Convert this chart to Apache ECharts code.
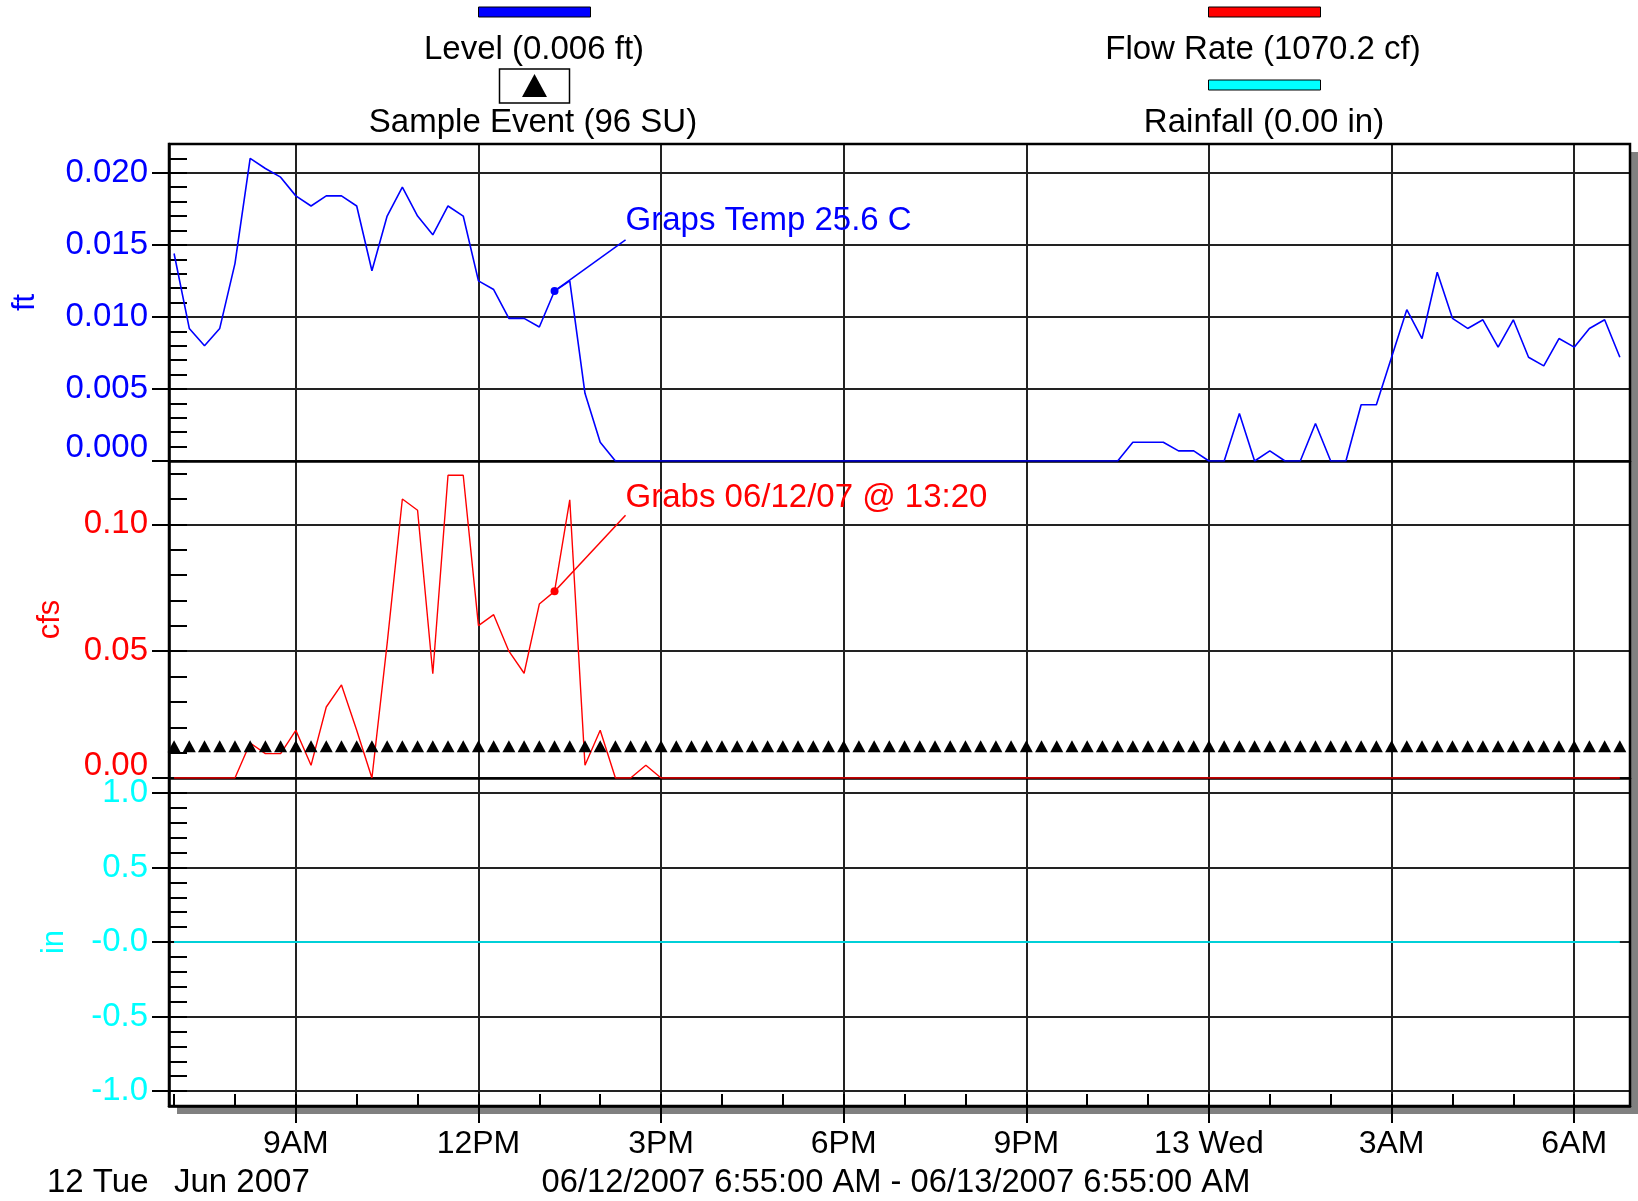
<!DOCTYPE html>
<html>
<head>
<meta charset="utf-8">
<script src="https://cdn.jsdelivr.net/npm/echarts@6/dist/echarts.min.js"></script>
<style>
html,body{margin:0;padding:0;background:#fff;}
#chart{width:1638px;height:1201px;}
</style>
</head>
<body>
<div id="chart"></div>
<script>
// ---------------- DATA ----------------
// time in hours since 00:00 on 12 Jun 2007 (15-minute samples, 07:00 .. 06:45 next day)
var times = [
  7.00, 7.25, 7.50, 7.75, 8.00, 8.25, 8.50, 8.75, 9.00, 9.25, 9.50, 9.75,
  10.00,10.25,10.50,10.75,11.00,11.25,11.50,11.75,12.00,12.25,12.50,12.75,
  13.00,13.25,13.50,13.75,14.00,14.25,14.50,14.75,15.00,15.25,15.50,15.75,
  16.00,16.25,16.50,16.75,17.00,17.25,17.50,17.75,18.00,18.25,18.50,18.75,
  19.00,19.25,19.50,19.75,20.00,20.25,20.50,20.75,21.00,21.25,21.50,21.75,
  22.00,22.25,22.50,22.75,23.00,23.25,23.50,23.75,24.00,24.25,24.50,24.75,
  25.00,25.25,25.50,25.75,26.00,26.25,26.50,26.75,27.00,27.25,27.50,27.75,
  28.00,28.25,28.50,28.75,29.00,29.25,29.50,29.75,30.00,30.25,30.50,30.75
];
// Level (ft)
var level = [
  0.0144,0.0092,0.0080,0.0092,0.0137,0.0210,0.0203,0.0197,0.0184,0.0177,0.0184,0.0184,
  0.0177,0.0132,0.0170,0.0190,0.0170,0.0157,0.0177,0.0170,0.0125,0.0119,0.0099,0.0099,
  0.0093,0.0118,0.0125,0.0047,0.0013,0,0,0,0,0,0,0,
  0,0,0,0,0,0,0,0,0,0,0,0,
  0,0,0,0,0,0,0,0,0,0,0,0,
  0,0,0,0.0013,0.0013,0.0013,0.0007,0.0007,0,0,0.0033,0,
  0.0007,0,0,0.0026,0,0,0.0039,0.0039,0.0072,0.0105,0.0085,0.0131,
  0.0099,0.0092,0.0098,0.0079,0.0098,0.0072,0.0066,0.0085,0.0079,0.0092,0.0098,0.0072
];
// Flow Rate (cfs)
var flow = [
  0,0,0,0,0,0.0138,0.0096,0.0096,0.0188,0.0050,0.0280,0.0367,
  0.0188,0,0.0530,0.1100,0.1056,0.0411,0.1194,0.1194,0.0601,0.0644,0.0500,0.0413,
  0.0686,0.0736,0.1097,0.0050,0.0188,0,0,0.0050,0,0,0,0,
  0,0,0,0,0,0,0,0,0,0,0,0,
  0,0,0,0,0,0,0,0,0,0,0,0,
  0,0,0,0,0,0,0,0,0,0,0,0,
  0,0,0,0,0,0,0,0,0,0,0,0,
  0,0,0,0,0,0,0,0,0,0,0,0
];
// Rainfall (in)
var rain = [
  0,0,0,0,0,0,0,0,0,0,0,0, 0,0,0,0,0,0,0,0,0,0,0,0,
  0,0,0,0,0,0,0,0,0,0,0,0, 0,0,0,0,0,0,0,0,0,0,0,0,
  0,0,0,0,0,0,0,0,0,0,0,0, 0,0,0,0,0,0,0,0,0,0,0,0,
  0,0,0,0,0,0,0,0,0,0,0,0, 0,0,0,0,0,0,0,0,0,0,0,0
];
// Sample events (one every 15 minutes, 96 SU) share the same times
var sampleTimes = times;
var SAMPLE_MARK_LEVEL = 0.0125; // where the event markers sit on the cfs scale

// annotations
var annotationIndex = 25;
var levelNote = 'Graps Temp 25.6 C';
var flowNote = 'Grabs 06/12/07 @ 13:20';

// axes / ticks
var X_MIN = 6 + 55/60, X_MAX = 30 + 55/60;
var xTicks = [9, 12, 15, 18, 21, 24, 27, 30];
var xTickLabels = ['9AM', '12PM', '3PM', '6PM', '9PM', '13 Wed', '3AM', '6AM'];
var xHourTicks = [7,8,9,10,11,12,13,14,15,16,17,18,19,20,21,22,23,24,25,26,27,28,29,30];

var ftTicks = [0, 0.005, 0.010, 0.015, 0.020];
var ftTickLabels = ['0.000', '0.005', '0.010', '0.015', '0.020'];
var cfsTicks = [0, 0.05, 0.10];
var cfsTickLabels = ['0.00', '0.05', '0.10'];
var inTicks = [-1.0, -0.5, 0, 0.5, 1.0];
var inTickLabels = ['-1.0', '-0.5', '-0.0', '0.5', '1.0'];

var legendNames = ['Level (0.006 ft)', 'Flow Rate (1070.2 cf)', 'Sample Event (96 SU)', 'Rainfall (0.00 in)'];

// ---------------- CHART ----------------
var FONT = '"Liberation Sans", Arial, sans-serif';
var BLUE = '#0000FF', RED = '#FF0000', CYAN = '#00FFFF', CYAN_LINE = '#00D0D8';
var GRID_LINE = { show: true, lineStyle: { color: '#222', width: 2 } };

function zip(xs, ys) { return xs.map(function (x, i) { return [x, ys[i]]; }); }
function lookup(ticks, labels) {
  return function (v) {
    for (var i = 0; i < ticks.length; i++) if (Math.abs(ticks[i] - v) < 1e-9) return labels[i];
    return '';
  };
}

var LEFT = 169, WIDTH = 1461;
var chart = echarts.init(document.getElementById('chart'), null, { renderer: 'canvas' });

function hiddenX(g) { return { gridIndex: g, type: 'value', min: X_MIN, max: X_MAX, show: false }; }
function hiddenY(g) { return { gridIndex: g, type: 'value', min: 0, max: 1, show: false }; }

function panelX(g, bottom) {
  return {
    gridIndex: g, type: 'value', min: X_MIN, max: X_MAX, position: 'bottom',
    axisLine: { show: true, onZero: false, lineStyle: { color: '#000', width: 2.5 } },
    axisTick: { show: !!bottom, inside: false, length: 17, customValues: xTicks, lineStyle: { color: '#000', width: 2 } },
    axisLabel: bottom ? {
      show: true, customValues: xTicks, formatter: lookup(xTicks, xTickLabels),
      color: '#000', fontSize: 32, fontFamily: FONT, margin: 22
    } : { show: false },
    splitLine: GRID_LINE
  };
}
function minorY(g, min, max, interval) {
  return {
    gridIndex: g, type: 'value', min: min, max: max, interval: interval, position: 'left',
    axisLine: { show: false, onZero: false }, axisLabel: { show: false }, splitLine: { show: false },
    axisTick: { show: true, inside: true, length: 18, lineStyle: { color: '#000', width: 2 } }
  };
}
function majorY(g, min, max, ticks, labels, color, name, nameGap, zeroPad) {
  return {
    gridIndex: g, type: 'value', min: min, max: max, position: 'left',
    name: name, nameLocation: 'middle', nameGap: nameGap,
    nameTextStyle: { color: color, fontSize: 31, fontFamily: FONT },
    axisLine: { show: true, onZero: false, lineStyle: { color: '#000', width: 2.5 } },
    axisTick: { show: true, inside: false, length: 17, customValues: ticks, lineStyle: { color: '#000', width: 2 } },
    axisLabel: {
      show: true, customValues: ticks, margin: 21,
      color: color, fontSize: 33, fontFamily: FONT,
      formatter: function (v) {
        var t = lookup(ticks, labels)(v);
        if (zeroPad && Math.abs(v) < 1e-12) return '{z|' + t + '}';
        return t;
      },
      rich: { z: { color: color, fontSize: 33, fontFamily: FONT, padding: [0, 0, zeroPad || 0, 0] } }
    },
    splitLine: GRID_LINE
  };
}
// annotation label: an empty second line moves the leader-line attachment below the text
function noteLabel(text, color, lineHeight) {
  return { show: true, position: 'right', distance: 5, formatter: text + '\n ',
    color: color, fontSize: 33, fontFamily: FONT, lineHeight: lineHeight, align: 'left' };
}

var option = {
  animation: false,
  backgroundColor: '#fff',
  textStyle: { fontFamily: FONT },
  grid: [
    { left: LEFT, top: 144, width: WIDTH, height: 962, show: true, backgroundColor: '#fff', borderWidth: 0,
      shadowColor: '#808080', shadowOffsetX: 8, shadowOffsetY: 8, shadowBlur: 0, containLabel: false },
    { left: LEFT, top: 144, width: WIDTH, height: 962, show: true, backgroundColor: 'transparent',
      borderColor: '#000', borderWidth: 2.5, z: 5 },
    { left: LEFT, top: 144, width: WIDTH, height: 317 },
    { left: LEFT, top: 461, width: WIDTH, height: 317 },
    { left: LEFT, top: 778, width: WIDTH, height: 328 }
  ],
  xAxis: [
    hiddenX(0), hiddenX(1),
    panelX(2, false), panelX(3, false), panelX(4, true),
    { gridIndex: 4, type: 'value', min: X_MIN, max: X_MAX, position: 'bottom',
      axisLine: { show: false, onZero: false }, axisLabel: { show: false }, splitLine: { show: false },
      axisTick: { show: true, inside: true, length: 12, customValues: xHourTicks, lineStyle: { color: '#000', width: 2 } } }
  ],
  yAxis: [
    hiddenY(0), hiddenY(1),
    majorY(2, 0, 0.022, ftTicks, ftTickLabels, BLUE, 'ft', 128, 26),
    minorY(2, 0, 0.022, 0.001),
    majorY(3, 0, 0.125, cfsTicks, cfsTickLabels, RED, 'cfs', 103, 25),
    minorY(3, 0, 0.125, 0.01),
    majorY(4, -1.1, 1.1, inTicks, inTickLabels, CYAN, 'in', 99, 0),
    minorY(4, -1.1, 1.1, 0.1)
  ],
  series: [
    { name: legendNames[3], type: 'line', xAxisIndex: 4, yAxisIndex: 6, data: zip(times, rain),
      showSymbol: false, lineStyle: { color: CYAN_LINE, width: 2 }, z: 3 },
    { name: legendNames[1], type: 'line', xAxisIndex: 3, yAxisIndex: 4, data: zip(times, flow),
      showSymbol: false, lineStyle: { color: RED, width: 1.4 }, z: 3 },
    { name: legendNames[2], type: 'scatter', xAxisIndex: 3, yAxisIndex: 4,
      data: sampleTimes.map(function (t) { return [t, SAMPLE_MARK_LEVEL]; }),
      symbol: 'triangle', symbolSize: [13, 12], itemStyle: { color: '#000', opacity: 1 }, z: 4 },
    { name: legendNames[0], type: 'line', xAxisIndex: 2, yAxisIndex: 2, data: zip(times, level),
      showSymbol: false, lineStyle: { color: BLUE, width: 1.6 }, z: 3 },
    { type: 'scatter', xAxisIndex: 2, yAxisIndex: 2,
      data: [[times[annotationIndex], level[annotationIndex]]],
      symbol: 'circle', symbolSize: 8, itemStyle: { color: BLUE, opacity: 1 }, z: 6,
      label: noteLabel(levelNote, BLUE, 38),
      labelLayout: { dx: 62, dy: -51 },
      labelLine: { show: true, lineStyle: { color: BLUE, width: 1.5, opacity: 1 } } },
    { type: 'scatter', xAxisIndex: 3, yAxisIndex: 4,
      data: [[times[annotationIndex], flow[annotationIndex]]],
      symbol: 'circle', symbolSize: 8, itemStyle: { color: RED, opacity: 1 }, z: 6,
      label: noteLabel(flowNote, RED, 34),
      labelLayout: { dx: 62, dy: -76 },
      labelLine: { show: true, lineStyle: { color: RED, width: 1.5, opacity: 1 } } }
  ],
  graphic: [
    // legend
    { type: 'rect', shape: { x: 478.5, y: 7, width: 112, height: 10 }, style: { fill: BLUE, stroke: '#000', lineWidth: 1 } },
    { type: 'text', x: 534, y: 50, style: { text: legendNames[0], fill: '#000', font: '33px ' + FONT, textAlign: 'center', textVerticalAlign: 'middle' } },
    { type: 'rect', shape: { x: 499.5, y: 69, width: 70, height: 34 }, style: { fill: '#fff', stroke: '#000', lineWidth: 1.5 } },
    { type: 'polygon', shape: { points: [[534.5, 74], [522, 97], [547, 97]] }, style: { fill: '#000' } },
    { type: 'text', x: 533, y: 123, style: { text: legendNames[2], fill: '#000', font: '33px ' + FONT, textAlign: 'center', textVerticalAlign: 'middle' } },
    { type: 'rect', shape: { x: 1208.5, y: 7, width: 112, height: 10 }, style: { fill: RED, stroke: '#000', lineWidth: 1 } },
    { type: 'text', x: 1263, y: 50, style: { text: legendNames[1], fill: '#000', font: '33px ' + FONT, textAlign: 'center', textVerticalAlign: 'middle' } },
    { type: 'rect', shape: { x: 1208.5, y: 80, width: 112, height: 10 }, style: { fill: CYAN, stroke: '#000', lineWidth: 1 } },
    { type: 'text', x: 1264, y: 123, style: { text: legendNames[3], fill: '#000', font: '33px ' + FONT, textAlign: 'center', textVerticalAlign: 'middle' } },
    // footer
    { type: 'text', x: 47, y: 1183, style: { text: '12 Tue', fill: '#000', font: '33px ' + FONT, textAlign: 'left', textVerticalAlign: 'middle' } },
    { type: 'text', x: 174, y: 1183, style: { text: 'Jun 2007', fill: '#000', font: '33px ' + FONT, textAlign: 'left', textVerticalAlign: 'middle' } },
    { type: 'text', x: 896, y: 1183, style: { text: '06/12/2007 6:55:00 AM - 06/13/2007 6:55:00 AM', fill: '#000', font: '32.7px ' + FONT, textAlign: 'center', textVerticalAlign: 'middle' } }
  ]
};
chart.setOption(option);
</script>
</body>
</html>
